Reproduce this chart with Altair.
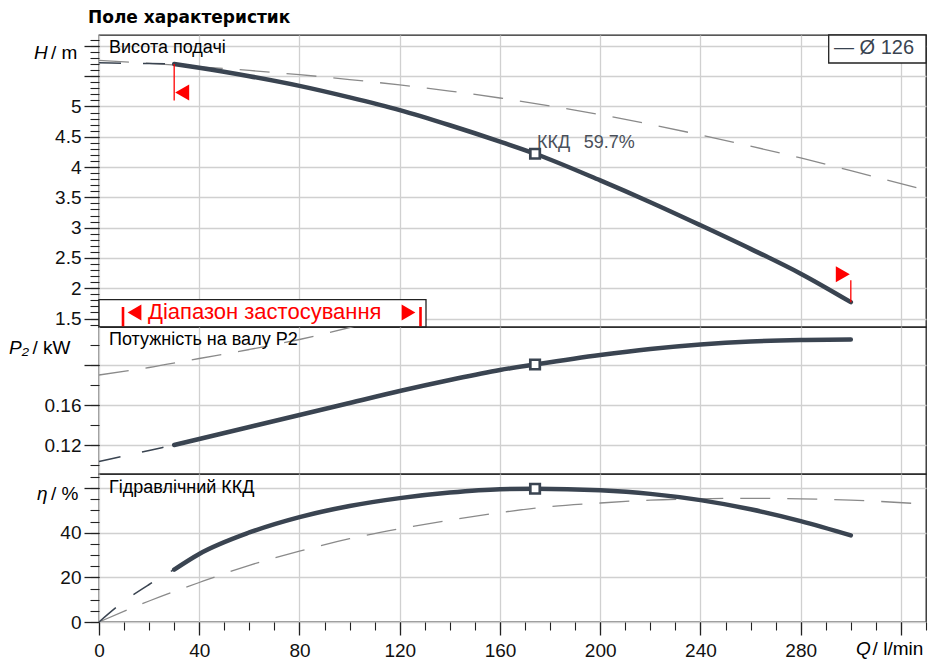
import altair as alt
import pandas as pd

# ---------------- data ----------------
Q_MAIN = [30, 40, 60, 80, 100, 120, 140, 160, 174, 200, 220, 240, 260, 280, 300]
H_MAIN = [5.70, 5.64, 5.50, 5.34, 5.15, 4.94, 4.69, 4.42, 4.22, 3.78, 3.42, 3.04, 2.65, 2.24, 1.77]
P_MAIN = [0.120, 0.126, 0.138, 0.150, 0.162, 0.174, 0.185, 0.195, 0.2005, 0.210, 0.216, 0.2205, 0.2235, 0.225, 0.2255]
ETA_MAIN = [23.5, 30.5, 40.1, 47.0, 52.0, 55.5, 58.0, 59.5, 59.7, 59.0, 57.4, 54.6, 50.5, 45.2, 38.8]

Q_EXT = [0, 10, 20, 30]
H_EXT = [5.72, 5.715, 5.71, 5.70]
P_EXT = [0.1035, 0.109, 0.1145, 0.120]
ETA_EXT = [0, 9.3, 16.8, 23.5]

Q_MAX = [0, 20, 40, 60, 80, 100, 120, 140, 160, 180, 200, 220, 240, 260, 280, 300, 330]
H_MAX = [5.76, 5.71, 5.655, 5.595, 5.525, 5.445, 5.355, 5.255, 5.14, 5.01, 4.865, 4.705, 4.53, 4.345, 4.15, 3.94, 3.62]
ETA_MAX = [0, 9.4, 17.7, 25.4, 31.7, 37.3, 41.8, 45.6, 49.0, 51.7, 53.3, 54.6, 55.2, 55.4, 55.2, 54.6, 52.8]
Q_PMAX = [0, 20, 40, 60, 80, 100, 110]
P_MAX = [0.190, 0.1975, 0.2065, 0.2155, 0.2255, 0.2375, 0.244]

OP_Q, OP_H, OP_P, OP_ETA = 174, 4.22, 0.2005, 59.7

LIMIT_Q = [30, 300]
LIMIT_H_CURVE = [5.70, 1.77]
LIMIT_H_TIP = [5.10, 2.13]
FLAG_H = [5.23, 2.23]

X_TICKS = [0, 40, 80, 120, 160, 200, 240, 280, 320]
X_MINOR = list(range(0, 331, 10))
H_TICKS = [1.5, 2.0, 2.5, 3.0, 3.5, 4.0, 4.5, 5.0, 5.5, 6.0]
H_MINOR = [round(1.4 + 0.1 * i, 1) for i in range(48)]
P_TICKS = [0.12, 0.16, 0.20]
P_MINOR = [0.10, 0.12, 0.14, 0.16, 0.18, 0.20, 0.22]
E_TICKS = [0, 20, 40, 60]
E_MINOR = list(range(0, 66, 5))

TITLE = "Поле характеристик"
LEGEND = "— Ø 126"
RANGE_TEXT = "Діапазон застосування"

# ---------------- styling ----------------
FONT = "Liberation Sans"
INK = "#3a4451"
GRAY = "#8a8a8a"
GRID = "#d0d0d0"
BORDER = "#222222"
RED = "#ff0000"
W = 827
H1, H2, H3 = 292, 147, 148
LBL = 19

xs = alt.Scale(domain=[0, 330], nice=False, zero=False)
ys1 = alt.Scale(domain=[1.36, 6.18], nice=False, zero=False)
ys2 = alt.Scale(domain=[0.091, 0.238], nice=False, zero=False)
ys3 = alt.Scale(domain=[0, 66.3], nice=False, zero=False)


def df(q, v):
    return pd.DataFrame({"Q": q, "v": v})


def x_grid_axis():
    return alt.Axis(values=X_TICKS, grid=True, gridColor=GRID, gridWidth=1.3,
                    labels=False, ticks=False, domain=False, title=None, orient="bottom")


def y_major(values, fmt, hide_expr):
    return alt.Axis(values=values, grid=True, gridColor=GRID, gridWidth=1.3, domain=False,
                    ticks=True, tickSize=15, tickColor=BORDER, tickWidth=1.3,
                    labels=True, format=fmt, labelExpr=hide_expr, labelFont=FONT,
                    labelFontSize=LBL, labelColor="#111111", labelPadding=3,
                    labelOverlap=False, title=None, orient="left")


def y_minor(values):
    return alt.Axis(values=values, grid=False, domain=False, ticks=True, tickSize=9,
                    tickColor=BORDER, tickWidth=1.1, labels=False, title=None, orient="left")


def text(t, x, y, size=18, color="#000000", font=FONT, style="normal", weight="normal",
         align="left"):
    return alt.Chart(pd.DataFrame({"t": [t]})).mark_text(
        align=align, baseline="alphabetic", font=font, fontSize=size, fontStyle=style,
        fontWeight=weight, color=color
    ).encode(x=alt.value(x), y=alt.value(y), text="t:N")


def box(x1, x2, y1, y2):
    return alt.Chart(pd.DataFrame({"k": [0]})).mark_rect(
        fill="white", stroke=BORDER, strokeWidth=1.3
    ).encode(x=alt.value(x1), x2=alt.value(x2), y=alt.value(y1), y2=alt.value(y2))


def red_bar(x, y1, y2):
    return alt.Chart(pd.DataFrame({"k": [0]})).mark_rule(color=RED, strokeWidth=2.6).encode(
        x=alt.value(x), y=alt.value(y1), y2=alt.value(y2))


def red_tri(shape, x, y):
    return alt.Chart(pd.DataFrame({"k": [0]})).mark_point(
        shape=shape, filled=True, color=RED, size=250, opacity=1
    ).encode(x=alt.value(x), y=alt.value(y))


def curve_layers(ys, q_max, v_max, v_ext, v_main, major_axis, minor_axis, x_major, x_minor,
                 clip_max=False):
    l_max = alt.Chart(df(q_max, v_max)).mark_line(
        color=GRAY, strokeWidth=1.3, strokeDash=[30, 17], interpolate="monotone", clip=clip_max
    ).encode(x=alt.X("Q:Q", scale=xs, axis=None), y=alt.Y("v:Q", scale=ys, axis=None))
    l_ext = alt.Chart(df(Q_EXT, v_ext)).mark_line(
        color=INK, strokeWidth=1.5, strokeDash=[22, 22], interpolate="monotone"
    ).encode(x=alt.X("Q:Q", scale=xs, axis=x_minor), y=alt.Y("v:Q", scale=ys, axis=minor_axis))
    l_main = alt.Chart(df(Q_MAIN, v_main)).mark_line(
        color=INK, strokeWidth=4.5, strokeCap="round", interpolate="monotone"
    ).encode(x=alt.X("Q:Q", scale=xs, axis=x_major), y=alt.Y("v:Q", scale=ys, axis=major_axis))
    return [l_max, l_ext, l_main]


def op_point(ys, value):
    return alt.Chart(pd.DataFrame({"Q": [OP_Q], "v": [value]})).mark_point(
        shape="square", filled=True, fill="white", stroke=INK, strokeWidth=2.7, size=90, opacity=1
    ).encode(x=alt.X("Q:Q", scale=xs, axis=None), y=alt.Y("v:Q", scale=ys, axis=None))


# ---------------- panel 1 : head ----------------
p1_layers = curve_layers(ys1, Q_MAX, H_MAX, H_EXT, H_MAIN,
                         y_major(H_TICKS, "~g", "datum.value > 5.2 ? '' : datum.label"),
                         y_minor(H_MINOR), x_grid_axis(), None)

limit_df = pd.DataFrame({"Q": LIMIT_Q, "h1": LIMIT_H_CURVE, "h2": LIMIT_H_TIP})
limits = alt.Chart(limit_df).mark_rule(color=RED, strokeWidth=1.3).encode(
    x=alt.X("Q:Q", scale=xs, axis=None), y=alt.Y("h1:Q", scale=ys1, axis=None), y2="h2:Q")
flag_l = alt.Chart(pd.DataFrame({"Q": [LIMIT_Q[0]], "v": [FLAG_H[0]]})).mark_point(
    shape="triangle-left", filled=True, color=RED, size=260, opacity=1, xOffset=8
).encode(x=alt.X("Q:Q", scale=xs, axis=None), y=alt.Y("v:Q", scale=ys1, axis=None))
flag_r = alt.Chart(pd.DataFrame({"Q": [LIMIT_Q[1]], "v": [FLAG_H[1]]})).mark_point(
    shape="triangle-right", filled=True, color=RED, size=260, opacity=1, xOffset=-8
).encode(x=alt.X("Q:Q", scale=xs, axis=None), y=alt.Y("v:Q", scale=ys1, axis=None))

op_text = alt.Chart(pd.DataFrame({"Q": [OP_Q], "v": [OP_H], "t": [f"ККД\u00a0\u00a0\u2009{OP_ETA}%"]})).mark_text(
    align="left", baseline="alphabetic", dx=2, dy=-6, font=FONT, fontSize=18, color="#4a505a"
).encode(x=alt.X("Q:Q", scale=xs, axis=None), y=alt.Y("v:Q", scale=ys1, axis=None), text="t:N")

p1 = alt.layer(
    *p1_layers, limits, flag_l, flag_r, op_point(ys1, OP_H), op_text,
    box(0, 327, 264.7, 292),
    red_bar(24, 272, 291.5), red_tri("triangle-left", 35.5, 277.5),
    text(RANGE_TEXT, 49, 284, size=22, color=RED),
    red_tri("triangle-right", 309.5, 277.5), red_bar(321.5, 272, 291.5),
    box(729.7, 827, 0, 28),
    text(LEGEND, 735, 19, size=20, color=INK),
    text("Висота подачі", 10, 17.7),
    text("H", -65, 24.3, size=19, style="italic"),
    text("/ m", -48, 24.3, size=19),
    text(TITLE, -11, -12.3, size=17, font="DejaVu Sans", weight="bold"),
).resolve_axis(x="independent", y="independent").properties(width=W, height=H1)

# ---------------- panel 2 : power ----------------
p2_layers = curve_layers(ys2, Q_PMAX, P_MAX, P_EXT, P_MAIN,
                         y_major(P_TICKS, ".2f", "datum.value > 0.19 ? '' : datum.label"),
                         y_minor(P_MINOR), x_grid_axis(), None, clip_max=True)
p2 = alt.layer(
    *p2_layers, op_point(ys2, OP_P),
    text("Потужність на валу P2", 10, 18.3),
    text("P₂", -90, 26.7, size=19, style="italic"),
    text("/ kW", -66.6, 26.7, size=19),
).resolve_axis(x="independent", y="independent").properties(width=W, height=H2)

# ---------------- panel 3 : efficiency ----------------
x_major_axis = alt.Axis(values=X_TICKS, grid=True, gridColor=GRID, gridWidth=1.3, domain=False,
                        ticks=True, tickSize=13, tickColor=BORDER, tickWidth=1.3,
                        labels=True, labelExpr="datum.value > 300 ? '' : datum.label",
                        labelFont=FONT, labelFontSize=LBL, labelColor="#111111", labelPadding=6,
                        labelFlush=False, labelOverlap=False, title=None, orient="bottom")
x_minor_axis = alt.Axis(values=X_MINOR, grid=False, domain=False, ticks=True, tickSize=8,
                        tickColor=BORDER, tickWidth=1.1, labels=False, title=None, orient="bottom")
p3_layers = curve_layers(ys3, Q_MAX, ETA_MAX, ETA_EXT, ETA_MAIN,
                         y_major(E_TICKS, ".0f", "datum.value > 50 ? '' : datum.label"),
                         y_minor(E_MINOR), x_major_axis, x_minor_axis)
p3 = alt.layer(
    *p3_layers, op_point(ys3, OP_ETA),
    text("Гідравлічний ККД", 10, 18.7),
    text("η", -62, 26.3, size=19, style="italic"),
    text("/ %", -48, 26.3, size=19),
    text("Q", 757, 181.3, size=19, style="italic"),
    text("/ l/min", 773.6, 181.3, size=19),
).resolve_axis(x="independent", y="independent").properties(width=W, height=H3)

chart = alt.vconcat(p1, p2, p3, spacing=0, bounds="flush").properties(
    padding=0, background="white"
).configure_view(stroke=BORDER, strokeWidth=1.3)

chart.save("out.html", embed_options={"renderer": "svg", "actions": False})
